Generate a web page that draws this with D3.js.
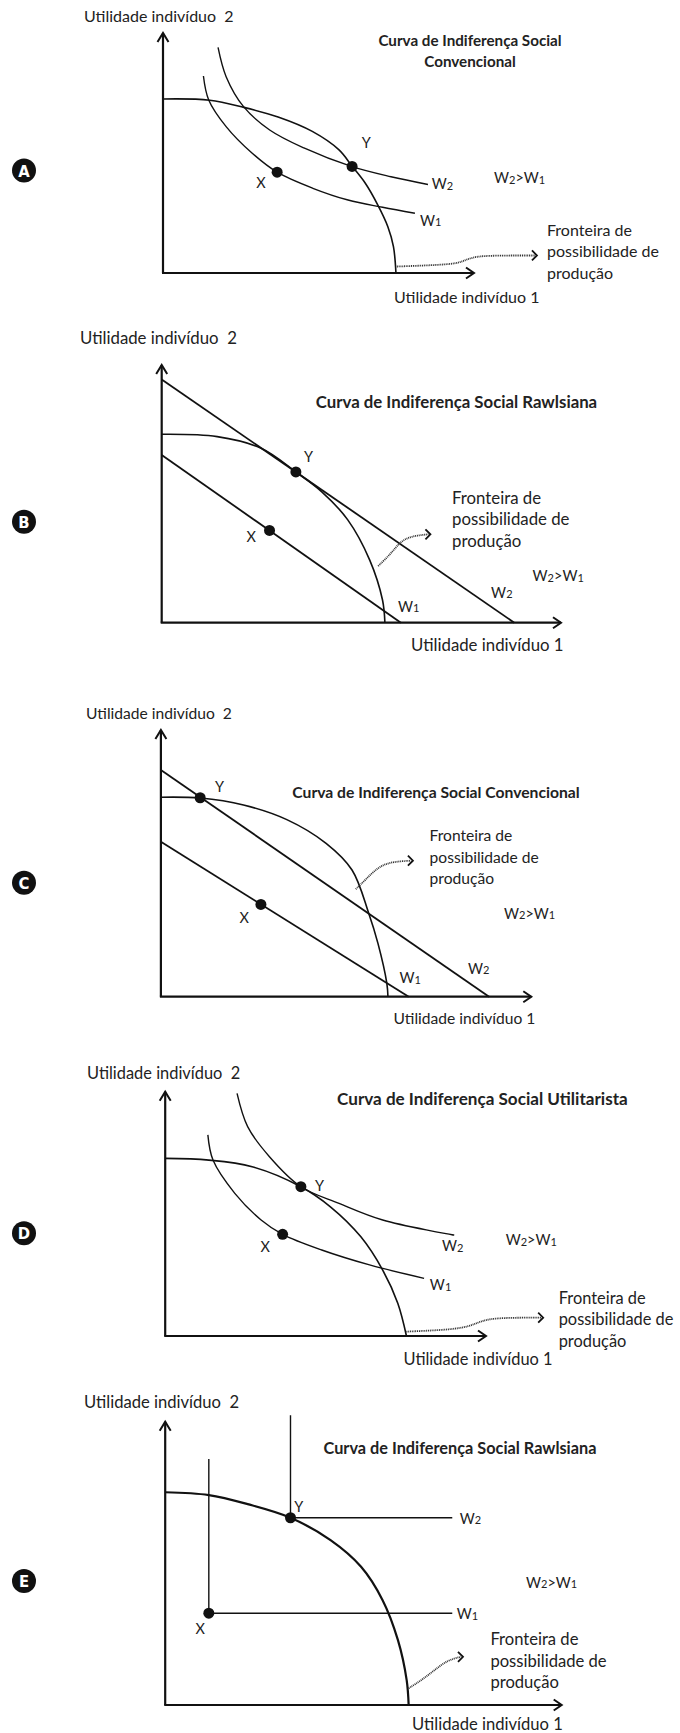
<!DOCTYPE html>
<html><head><meta charset="utf-8">
<script src="https://cdn.jsdelivr.net/npm/d3@7"></script>
<style>body{margin:0;background:#fff} svg{display:block}</style>
</head><body><svg id="c" width="680" height="1733"></svg>
<script>
// ---------- DATA ----------
const panelLetters = ["A", "B", "C", "D", "E"];
const panelTitles = [
  ["Curva de Indiferença Social", "Convencional"],
  ["Curva de Indiferença Social Rawlsiana"],
  ["Curva de Indiferença Social Convencional"],
  ["Curva de Indiferença Social Utilitarista"],
  ["Curva de Indiferença Social Rawlsiana"]
];
const yAxisLabel = "Utilidade indivíduo  2";
const xAxisLabel = "Utilidade indivíduo 1";
const frontierText = ["Fronteira de", "possibilidade de", "produção"];

// production possibility frontiers (utility 1, utility 2), in % of axis length
const ppfA = [[0,72.5],[15,72],[26,69],[37,65],[48,59],[56.6,51.3],[60.8,44.5],[65,37.5],[69,28.5],[72.3,19.3],[74.1,11],[74.9,0]];
const ppfB = [[0,73.1],[13.9,72.2],[24.9,67.7],[33.6,58.5],[40.1,50.8],[46.6,39.9],[52.1,24.3],[55.3,8.8],[55.9,0]];
const ppfC = [[0,74.8],[10.6,74.5],[22.3,71.9],[34,66.4],[44.6,57.5],[51.6,47.5],[56.1,31.3],[58.6,20],[61,5],[61.3,0]];
const ppfD = [[0,72.7],[13.6,72],[27.1,69.3],[42.3,61.1],[51.5,52.9],[61,40.6],[67.8,27],[72.5,13.4],[75.2,0]];
const ppfE = [[0,75.1],[11,74.1],[20.8,70.9],[31.6,66.1],[41.7,58.2],[49.4,48.8],[54.8,37.1],[58.7,22.9],[60.9,8.8],[61.4,0]];

// social indifference curves W1 and W2
const w1A = [[13,82.1],[14.7,72.1],[20.3,61],[28.6,50],[36.7,42],[48.2,35.3],[59.5,30.4],[70.6,27.4],[81,24.9]];
const w2A = [[17.7,94],[20.3,81.8],[25.9,69.3],[34.3,59.6],[45.3,52.1],[60.8,44.3],[73.3,40.1],[85.2,36.9]];
const w1B = [[0,65.1],[59.9,0]];
const w2B = [[0,94.4],[88.3,0]];
const w1C = [[0,58.1],[66.9,0]];
const w2C = [[0,85],[88.6,0]];
const w1D = [[13.3,82.3],[14.9,72],[21.7,58.4],[29.9,47.5],[36.6,41.6],[48.8,35.2],[63.7,29.1],[80.7,23.6]];
const w2D = [[22.4,99.3],[25.7,85.7],[32.5,73.4],[42.3,61.1],[54.2,54.3],[67.8,47.5],[90.1,41.3]];
const w1E = [[11,86.8],[11,32.4],[72.4,32.4]];
const w2E = [[31.6,102.3],[31.6,66.1],[72.4,66.1]];

// points X and Y
const pointX = [[36.7,42],[27,35.8],[27,34.6],[36.6,41.6],[11,32.4]];
const pointY = [[60.8,44.4],[33.6,58.5],[10.6,74.6],[42.3,61.1],[31.6,66.1]];

// dotted pointer from the frontier to its label
const pointerA = [[75.2,2.7],[92.3,3.5],[96.1,4.6],[99.4,6.7],[105.1,7.3],[119.6,7.3]];
const pointerB = [[54.2,22],[57.5,26.9],[59.7,31.4],[62.4,33.6],[66.8,34.3]];
const pointerC = [[52.6,40.3],[55.2,43.8],[58.7,48.7],[62.2,50.6],[67.5,51]];
const pointerD = [[75.2,1.8],[88.1,2.5],[94.9,3.8],[98.9,6.5],[104.4,7.5],[117.2,7.5]];
const pointerE = [[61.4,5.9],[64.7,8.8],[68,12.4],[71.3,15.9],[74.6,17]];

const ppfs = [ppfA, ppfB, ppfC, ppfD, ppfE];
const w1s = [w1A, w1B, w1C, w1D, w1E];
const w2s = [w2A, w2B, w2C, w2D, w2E];
const pointers = [pointerA, pointerB, pointerC, pointerD, pointerE];

// ---------- LAYOUT ----------
const layout = [
  {ox:163, oy:273, xEnd:474, yTop:33, letterY:170.5, yLab:[84,15], xLab:[394,296], titleX:470, titleY:[40,61],
   cmp:[494,177], fr:[547,229], w2Lab:[86.4,37.5], w1Lab:[82.6,22.1], yL:[65.4,54.3], xL:[31.5,37.6], smooth:true, fs:16, ts:15.2},
  {ox:161.7, oy:622.7, xEnd:561, yTop:365, letterY:521.7, yLab:[80,337.5], xLab:[411,644], titleX:456.5, titleY:[401.7],
   cmp:[532.6,575], fr:[452,497], w2Lab:[82.5,12], w1Lab:[59.2,6.5], yL:[36.8,64.4], xL:[22.4,33.4], smooth:false, fs:16.8, ts:16.8},
  {ox:160.9, oy:996.7, xEnd:531.3, yTop:730, letterY:882.7, yLab:[86,712.7], xLab:[393.5,1018.3], titleX:436, titleY:[791.7],
   cmp:[504,912.7], fr:[429.6,835.3], w2Lab:[82.9,10.9], w1Lab:[64.4,7.3], yL:[15.8,78.7], xL:[22.5,29.8], smooth:false, fs:15.6, ts:15.7},
  {ox:165.2, oy:1336, xEnd:486, yTop:1091.7, letterY:1233.3, yLab:[87,1072.7], xLab:[403.5,1358.3], titleX:482.4, titleY:[1098.3],
   cmp:[505.7,1239.3], fr:[558.7,1297.3], w2Lab:[86.3,37.2], w1Lab:[82.5,21.2], yL:[48.1,61.8], xL:[31.2,36.6], smooth:true, fs:16.4, ts:17.1},
  {ox:165.2, oy:1705, xEnd:561.7, yTop:1421.7, letterY:1581, yLab:[84,1401.7], xLab:[412,1724], titleX:460, titleY:[1447.7],
   cmp:[526,1581.7], fr:[490.4,1639.3], w2Lab:[74.3,66.1], w1Lab:[73.5,32.4], yL:[33.7,70.2], xL:[8.8,27.1], smooth:false, fs:16.6, ts:16.3}
];

const FONT = "Lato, 'Open Sans', sans-serif";
const svg = d3.select("#c");

function wLabel(g, x, y, num) {
  const t = g.append("text").attr("x", x).attr("y", y).attr("dominant-baseline", "central")
    .attr("font-family", FONT).attr("font-size", 14.5).attr("fill", "#222");
  t.append("tspan").text("W");
  t.append("tspan").attr("font-size", 11).attr("dy", 1.5).text(num);
  return t;
}

panelLetters.forEach((letter, i) => {
  const L = layout[i];
  const g = svg.append("g");
  const x = d3.scaleLinear().domain([0, 100]).range([L.ox, L.xEnd]);
  const y = d3.scaleLinear().domain([0, 100]).range([L.oy, L.yTop]);

  // letter badge
  g.append("circle").attr("cx", 24).attr("cy", L.letterY).attr("r", 12).attr("fill", "#111");
  g.append("text").attr("x", 24).attr("y", L.letterY + 0.5).attr("text-anchor", "middle").attr("dominant-baseline", "central")
    .attr("font-family", "'DejaVu Sans Condensed', 'DejaVu Sans', sans-serif").attr("font-weight", "bold")
    .attr("font-size", 16.5).attr("fill", "#fff").text(letter);

  // axes
  const axisW = 2.2;
  g.append("line").attr("x1", x(0)).attr("y1", y(0)).attr("x2", x(0)).attr("y2", y(100))
    .attr("stroke", "#111").attr("stroke-width", axisW);
  g.append("line").attr("x1", x(0) - 1).attr("y1", y(0)).attr("x2", x(100)).attr("y2", y(0))
    .attr("stroke", "#111").attr("stroke-width", axisW);
  g.append("path").attr("d", `M${x(0) - 5.5},${y(100) + 9}L${x(0)},${y(100)}L${x(0) + 5.5},${y(100) + 9}`)
    .attr("fill", "none").attr("stroke", "#111").attr("stroke-width", 2);
  g.append("path").attr("d", `M${x(100) - 8},${y(0) - 5.5}L${x(100)},${y(0)}L${x(100) - 8},${y(0) + 5.5}`)
    .attr("fill", "none").attr("stroke", "#111").attr("stroke-width", 2);

  // axis labels
  g.append("text").attr("x", L.yLab[0]).attr("y", L.yLab[1]).attr("dominant-baseline", "central")
    .attr("font-family", FONT).attr("font-size", L.fs).attr("fill", "#222")
    .style("white-space", "pre").text(yAxisLabel);
  g.append("text").attr("x", L.xLab[0]).attr("y", L.xLab[1]).attr("dominant-baseline", "central")
    .attr("font-family", FONT).attr("font-size", L.fs).attr("fill", "#222").text(xAxisLabel);

  // title
  panelTitles[i].forEach((line, k) => {
    g.append("text").attr("x", L.titleX).attr("y", L.titleY[k]).attr("text-anchor", "middle").attr("dominant-baseline", "central")
      .attr("font-family", FONT).attr("font-weight", "bold").attr("font-size", L.ts).attr("fill", "#222").text(line);
  });

  // curves
  const smoothLine = d3.line().x(d => x(d[0])).y(d => y(d[1])).curve(d3.curveCatmullRom.alpha(0.5));
  const straightLine = d3.line().x(d => x(d[0])).y(d => y(d[1]));

  g.append("path").attr("d", smoothLine(ppfs[i])).attr("fill", "none").attr("stroke", "#111")
    .attr("stroke-width", i === 4 ? 2.2 : 1.6);
  const wl = L.smooth ? smoothLine : straightLine;
  const wWidth = L.smooth ? 1.4 : (i === 4 ? 1.4 : 1.8);
  g.append("path").attr("d", wl(w1s[i])).attr("fill", "none").attr("stroke", "#111").attr("stroke-width", wWidth);
  g.append("path").attr("d", wl(w2s[i])).attr("fill", "none").attr("stroke", "#111").attr("stroke-width", wWidth);

  // points
  [pointX[i], pointY[i]].forEach(p => {
    g.append("circle").attr("cx", x(p[0])).attr("cy", y(p[1])).attr("r", 5.5).attr("fill", "#111");
  });
  g.append("text").attr("x", x(L.yL[0])).attr("y", y(L.yL[1])).attr("text-anchor", "middle").attr("dominant-baseline", "central")
    .attr("font-family", FONT).attr("font-size", 14.5).attr("fill", "#222").text("Y");
  g.append("text").attr("x", x(L.xL[0])).attr("y", y(L.xL[1])).attr("text-anchor", "middle").attr("dominant-baseline", "central")
    .attr("font-family", FONT).attr("font-size", 14.5).attr("fill", "#222").text("X");

  // W labels
  wLabel(g, x(L.w2Lab[0]), y(L.w2Lab[1]), "2");
  wLabel(g, x(L.w1Lab[0]), y(L.w1Lab[1]), "1");

  // W2 > W1
  const c = g.append("text").attr("x", L.cmp[0]).attr("y", L.cmp[1]).attr("dominant-baseline", "central")
    .attr("font-family", FONT).attr("font-size", 14.5).attr("fill", "#222");
  c.append("tspan").text("W");
  c.append("tspan").attr("font-size", 11).attr("dy", 1.5).text("2");
  c.append("tspan").attr("dy", -1.5).text(">W");
  c.append("tspan").attr("font-size", 11).attr("dy", 1.5).text("1");

  // frontier label
  frontierText.forEach((line, k) => {
    g.append("text").attr("x", L.fr[0]).attr("y", L.fr[1] + k * 21.5).attr("dominant-baseline", "central")
      .attr("font-family", FONT).attr("font-size", L.fs).attr("fill", "#222").text(line);
  });

  // dotted pointer
  const pts = pointers[i];
  g.append("path").attr("d", d3.line().x(d => x(d[0])).y(d => y(d[1])).curve(d3.curveBasis)(pts))
    .attr("fill", "none").attr("stroke", "#333").attr("stroke-width", 1.8).attr("stroke-dasharray", "1,0.8");
  const tip = pts[pts.length - 1];
  const tx = x(tip[0]) + 2, ty = y(tip[1]);
  g.append("path").attr("d", `M${tx - 5},${ty - 5}L${tx},${ty}L${tx - 5},${ty + 5}`)
    .attr("fill", "none").attr("stroke", "#111").attr("stroke-width", 1.8);
});
</script></body></html>
